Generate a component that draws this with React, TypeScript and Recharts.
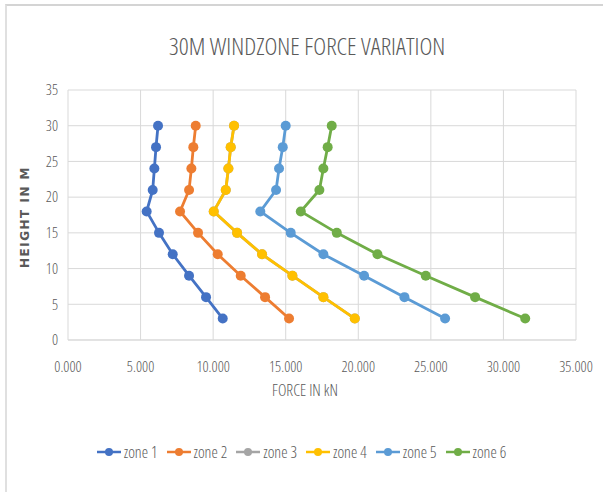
import { LineChart, Line, XAxis, YAxis, CartesianGrid } from 'recharts';

const heights = [3, 6, 9, 12, 15, 18, 21, 24, 27, 30];
const zone1 = [10660, 9510, 8340, 7215, 6270, 5420, 5835, 5950, 6065, 6203];
const zone2 = [15230, 13577, 11900, 10315, 8960, 7720, 8340, 8500, 8635, 8800];
const zone3 = [19760, 17595, 15460, 13370, 11650, 10040, 10870, 11050, 11210, 11440];
const zone4 = [19760, 17595, 15460, 13370, 11650, 10040, 10870, 11050, 11210, 11440];
const zone5 = [25980, 23180, 20400, 17595, 15345, 13250, 14335, 14540, 14795, 15000];
const zone6 = [31500, 28050, 24650, 21320, 18520, 16040, 17320, 17595, 17890, 18170];
const xTicks = [0, 5000, 10000, 15000, 20000, 25000, 30000, 35000];
const yTicks = [0, 5, 10, 15, 20, 25, 30, 35];

const series = [
  { name: 'zone 1', values: zone1, color: '#4472C4' },
  { name: 'zone 2', values: zone2, color: '#ED7D31' },
  { name: 'zone 3', values: zone3, color: '#A5A5A5' },
  { name: 'zone 4', values: zone4, color: '#FFC000' },
  { name: 'zone 5', values: zone5, color: '#5B9BD5' },
  { name: 'zone 6', values: zone6, color: '#70AD47' },
];

const narrow = '"Open Sans", sans-serif';
const grey = '#595959';

export default function App() {
  return (
    <div
      style={{
        position: 'absolute',
        left: 0,
        top: 0,
        width: 603,
        height: 492,
        background: '#fff',
        overflow: 'hidden',
      }}
    >
      <div
        style={{
          position: 'absolute',
          left: 5,
          top: 4,
          width: 620,
          height: 520,
          borderTop: '2px solid #d4d4d4',
          borderLeft: '2px solid #e0e0e0',
        }}
      />
      <div
        style={{
          position: 'absolute',
          left: 107,
          width: 400,
          top: 29,
          textAlign: 'center',
          fontFamily: narrow,
          fontStretch: '75%',
          fontWeight: 300,
          fontSize: 24.5,
          color: grey,
        }}
      >
        30M WINDZONE FORCE VARIATION
      </div>
      <LineChart width={603} height={492} margin={{ top: 90, right: 27, bottom: 102, left: 8 }}>
        <CartesianGrid stroke="#d9d9d9" strokeWidth={1} />
        <XAxis
          type="number"
          dataKey="force"
          domain={[0, 35000]}
          ticks={xTicks}
          tickFormatter={(v: number) => (v / 1000).toFixed(3)}
          tickLine={false}
          tickSize={0}
          tickMargin={21}
          height={50}
          axisLine={{ stroke: '#d9d9d9' }}
          tick={{ fill: grey, fontSize: 15, fontFamily: narrow, style: { fontStretch: '75%', fontWeight: 300 } }}
        />
        <YAxis
          type="number"
          dataKey="height"
          domain={[0, 35]}
          ticks={yTicks}
          width={60}
          tickLine={false}
          tickSize={0}
          tickMargin={10}
          axisLine={false}
          tick={{ fill: grey, fontSize: 15, fontFamily: narrow, style: { fontStretch: '75%', fontWeight: 300 } }}
        />
        {series.map((s) => (
          <Line
            key={s.name}
            name={s.name}
            data={heights.map((h, i) => ({ height: h, force: s.values[i] }))}
            dataKey="height"
            stroke={s.color}
            strokeWidth={2.8}
            dot={{ r: 5, fill: s.color, stroke: s.color, strokeWidth: 0 }}
            isAnimationActive={false}
          />
        ))}
      </LineChart>
      <div
        style={{
          position: 'absolute',
          left: 105,
          width: 400,
          top: 379,
          textAlign: 'center',
          fontFamily: narrow,
          fontStretch: '75%',
          fontWeight: 300,
          fontSize: 16,
          color: grey,
        }}
      >
        FORCE IN kN
      </div>
      <div
        style={{
          position: 'absolute',
          left: 25,
          top: 217,
          transform: 'translate(-50%, -50%) rotate(-90deg)',
          whiteSpace: 'nowrap',
          fontFamily: '"DejaVu Sans", sans-serif',
          fontWeight: 'bold',
          fontSize: 12,
          letterSpacing: 1.5,
          color: grey,
        }}
      >
        HEIGHT IN M
      </div>
      <div
        style={{
          position: 'absolute',
          left: 0,
          width: 603,
          top: 441,
          display: 'flex',
          justifyContent: 'center',
          gap: 9,
          fontFamily: narrow,
          fontStretch: '75%',
          fontWeight: 300,
          fontSize: 16,
          color: grey,
        }}
      >
        {series.map((s) => (
          <div key={s.name} style={{ display: 'flex', alignItems: 'center', gap: 3 }}>
            <svg width={24} height={12}>
              <line x1={0} y1={6} x2={24} y2={6} stroke={s.color} strokeWidth={2.5} />
              <circle cx={12} cy={6} r={4} fill={s.color} />
            </svg>
            <span>{s.name}</span>
          </div>
        ))}
      </div>
    </div>
  );
}
